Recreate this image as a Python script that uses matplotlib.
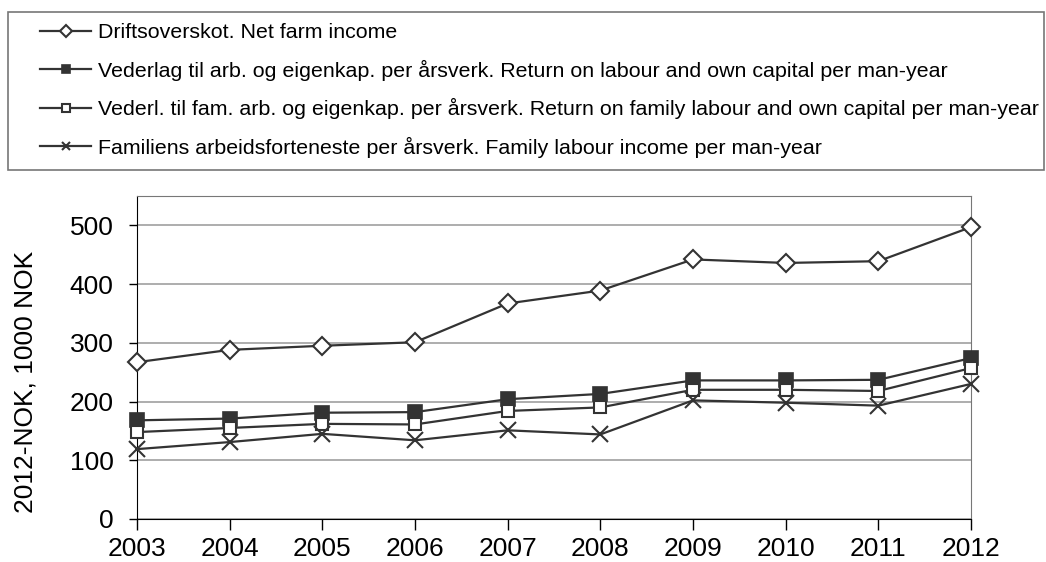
import matplotlib.pyplot as plt
from matplotlib.patches import Rectangle

plt.rcParams['font.family'] = ['Liberation Sans', 'DejaVu Sans']

years = [2003, 2004, 2005, 2006, 2007, 2008, 2009, 2010, 2011, 2012]
net_farm = [267, 288, 295, 301, 367, 389, 442, 436, 439, 497]
return_labour = [168, 171, 181, 182, 204, 213, 236, 236, 237, 274]
return_family = [148, 155, 162, 161, 184, 190, 220, 220, 218, 257]
family_income = [119, 131, 145, 134, 151, 144, 202, 198, 193, 230]

labels = ['Driftsoverskot. Net farm income',
          'Vederlag til arb. og eigenkap. per årsverk. Return on labour and own capital per man-year',
          'Vederl. til fam. arb. og eigenkap. per årsverk. Return on family labour and own capital per man-year',
          'Familiens arbeidsforteneste per årsverk. Family labour income per man-year']

W, H = 1046, 562
fig = plt.figure(figsize=(W/100, H/100), dpi=100)
ax = fig.add_axes([137/W, 1-519/H, (971-137)/W, (519-196)/H])

c = '#333333'
kw = dict(color=c, lw=1.6, mec=c, clip_on=False, zorder=3)
l1, = ax.plot(years, net_farm, marker='D', ms=9, mfc='white', mew=1.5, label=labels[0], **kw)
l2, = ax.plot(years, return_labour, marker='s', ms=10, mfc=c, mew=1.2, label=labels[1], **kw)
l3, = ax.plot(years, return_family, marker='s', ms=9, mfc='white', mew=1.5, label=labels[2], **kw)
l4, = ax.plot(years, family_income, marker='x', ms=11, mew=1.5, label=labels[3], **kw)

ax.set_xlim(2003, 2012)
ax.set_ylim(0, 550)
ax.set_yticks([0, 100, 200, 300, 400, 500])
ax.set_xticks(years)
ax.yaxis.grid(True, color='#a0a0a0', lw=1.2)
ax.set_axisbelow(True)
for s in ['top', 'right']:
    ax.spines[s].set_color('#777777')
ax.spines['left'].set_color('black')
ax.spines['bottom'].set_color('black')
ax.tick_params(axis='both', labelsize=19, width=1)
ax.tick_params(axis='x', length=8, pad=5)
ax.tick_params(axis='y', length=6, pad=11)
fig.text(26/W, 1-382/H, '2012-NOK, 1000 NOK', fontsize=19, rotation=90, ha='center', va='center')

leg = fig.legend(handles=[l1, l2, l3, l4], loc='upper left', bbox_to_anchor=(40/W, 1-23/H),
                 frameon=False, fontsize=15.4, handlelength=2.4, handletextpad=0.3,
                 labelspacing=0.82, borderpad=0, borderaxespad=0)
for h in leg.legend_handles:
    h.set_markersize(6)
    h.set_linewidth(1.6)
fig.patches.append(Rectangle((8/W, 1-170/H), (1044-8)/W, (170-12)/H, transform=fig.transFigure,
                             fill=False, edgecolor='#777777', lw=1.2))

fig.savefig('out.png', dpi=100)
